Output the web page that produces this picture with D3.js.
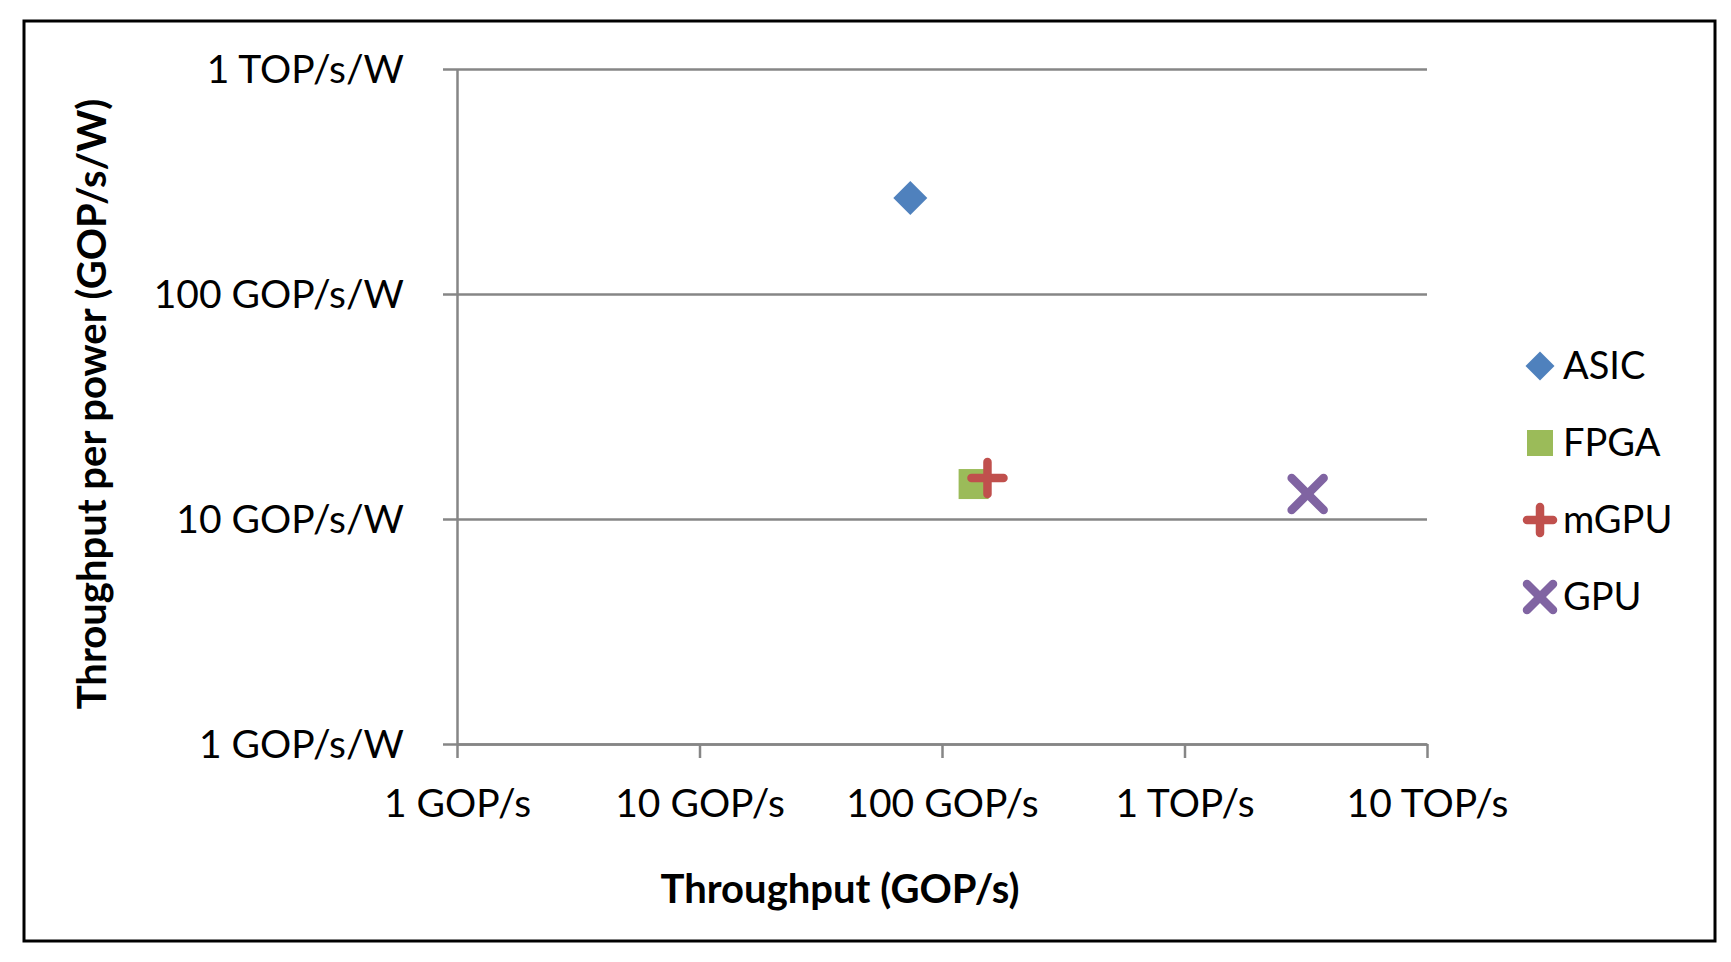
<!DOCTYPE html>
<html>
<head>
<meta charset="utf-8">
<script src="https://cdn.jsdelivr.net/npm/d3@7"></script>
<style>
  body { margin: 0; background: #fff; }
  text { font-family: Lato, "Open Sans", sans-serif; fill: #000; }
</style>
</head>
<body>
<div id="chart"></div>
<script>
// data
const seriesNames = ["ASIC", "FPGA", "mGPU", "GPU"];
const throughput = [74, 135, 154, 3220];        // GOP/s
const efficiency = [267, 14.3, 15.2, 12.9];     // GOP/s/W

const xTicks = [1, 10, 100, 1000, 10000];
const xTickLabels = ["1 GOP/s", "10 GOP/s", "100 GOP/s", "1 TOP/s", "10 TOP/s"];
const yTicks = [1, 10, 100, 1000];
const yTickLabels = ["1 GOP/s/W", "10 GOP/s/W", "100 GOP/s/W", "1 TOP/s/W"];

const colors = {ASIC: "#4F81BD", FPGA: "#9BBB59", mGPU: "#C0504D", GPU: "#8064A2"};

var W = 1731, H = 962;
var plot = {left: 457, right: 1427, top: 69, bottom: 744};

const svg = d3.select("#chart")
    .append("svg")
        .attr("width", W)
        .attr("height", H);

// outer frame
svg.append("rect")
    .attr("x", 24).attr("y", 21)
    .attr("width", 1691).attr("height", 920)
    .attr("fill", "none")
    .attr("stroke", "#000")
    .attr("stroke-width", 3);

const x = d3.scaleLog()
            .domain([1, 10000])
            .range([plot.left, plot.right]);

const y = d3.scaleLog()
            .domain([1, 1000])
            .range([plot.bottom, plot.top]);

// horizontal gridlines (with the little stub left of the axis)
svg.append("g")
    .attr("transform", "translate(" + plot.left + ",0)")
    .call(d3.axisLeft(y).tickValues(yTicks).tickSize(-(plot.right - plot.left)).tickSizeOuter(0).tickFormat(""))
    .call(g => g.select(".domain").remove())
    .selectAll("line")
        .attr("x1", -14)
        .attr("stroke", "#868686")
        .attr("stroke-width", 2.5);

// y axis
const yAxis = svg.append("g")
    .attr("transform", "translate(" + plot.left + ",0)")
    .call(d3.axisLeft(y).tickValues(yTicks).tickSize(0).tickSizeOuter(0)
            .tickFormat((d, i) => yTickLabels[i]));
yAxis.select(".domain").attr("stroke", "#868686").attr("stroke-width", 2.5);
yAxis.selectAll("text")
    .attr("x", -53)
    .attr("dy", "0.35em")
    .style("font-size", "39px")
    .style("font-family", "Lato, sans-serif");

// x axis
const xAxis = svg.append("g")
    .attr("transform", "translate(0," + plot.bottom + ")")
    .call(d3.axisBottom(x).tickValues(xTicks).tickSize(14).tickSizeOuter(0)
            .tickFormat((d, i) => xTickLabels[i]));
xAxis.select(".domain").attr("stroke", "#868686").attr("stroke-width", 2.5);
xAxis.selectAll("line").attr("stroke", "#868686").attr("stroke-width", 2.5);
xAxis.selectAll("text")
    .attr("y", 73)
    .attr("dy", 0)
    .style("font-size", "39px")
    .style("font-family", "Lato, sans-serif");

// axis titles
svg.append("text")
    .attr("x", 840).attr("y", 903)
    .attr("text-anchor", "middle")
    .style("font-size", "40px")
    .style("font-weight", "bold")
    .text("Throughput (GOP/s)");

svg.append("text")
    .attr("transform", "translate(106,404) rotate(-90)")
    .attr("text-anchor", "middle")
    .style("font-size", "40px")
    .style("font-weight", "bold")
    .text("Throughput per power (GOP/s/W)");

// markers
function drawMarker(g, name, cx, cy, s) {
    const c = colors[name];
    if (name === "ASIC") {
        // diamond2: half diagonal = sqrt(size) * 0.62625
        const r = s / 2 / 0.62625;
        g.append("path")
            .attr("d", d3.symbol(d3.symbolDiamond2, r * r)())
            .attr("transform", "translate(" + cx + "," + cy + ")")
            .attr("fill", c);
    } else if (name === "FPGA") {
        g.append("rect")
            .attr("x", cx - s / 2).attr("y", cy - s / 2)
            .attr("width", s).attr("height", s)
            .attr("fill", c);
    } else {
        const h = s / 2 - 4;
        const segs = name === "mGPU"
            ? [[-h, 0, h, 0], [0, -h, 0, h]]
            : [[-h, -h, h, h], [-h, h, h, -h]];
        segs.forEach(sg => {
            g.append("line")
                .attr("x1", cx + sg[0]).attr("y1", cy + sg[1])
                .attr("x2", cx + sg[2]).attr("y2", cy + sg[3])
                .attr("stroke", c)
                .attr("stroke-width", 8.5)
                .attr("stroke-linecap", "round");
        });
    }
}

const points = svg.append("g");
seriesNames.forEach((name, i) => {
    drawMarker(points, name, x(throughput[i]), y(efficiency[i]), name === "ASIC" ? 34 : (name === "FPGA" ? 30 : 40));
});

// legend
const legend = svg.append("g");
seriesNames.forEach((name, i) => {
    const ly = 366 + i * 77;
    drawMarker(legend, name, 1540, ly, name === "ASIC" ? 29 : (name === "FPGA" ? 26 : 34));
    legend.append("text")
        .attr("x", 1563).attr("y", ly)
        .attr("dy", "0.35em")
        .style("font-size", "38px")
        .text(name);
});
</script>
</body>
</html>
